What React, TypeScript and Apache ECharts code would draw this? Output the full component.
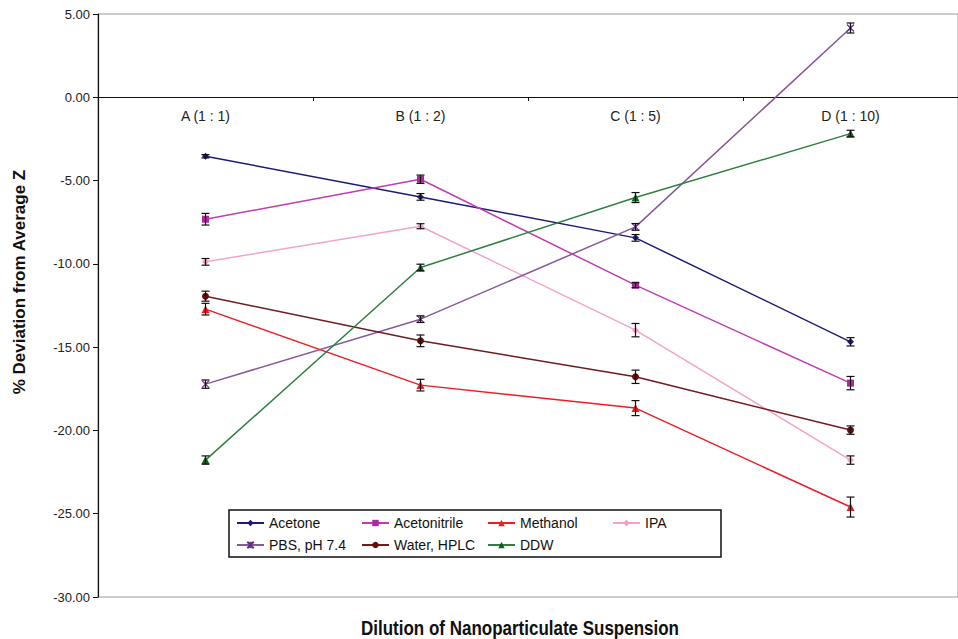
import React, { useEffect, useRef } from "react";
import * as echarts from "echarts";

const categories = ["A (1 : 1)", "B (1 : 2)", "C (1 : 5)", "D (1 : 10)"];
const yTicks = [5, 0, -5, -10, -15, -20, -25, -30];

const seriesNames = ["Acetone", "Acetonitrile", "Methanol", "IPA", "PBS, pH 7.4", "Water, HPLC", "DDW"];
const acetone = [-3.54, -5.98, -8.44, -14.68];
const acetonitrile = [-7.32, -4.92, -11.28, -17.16];
const methanol = [-12.72, -17.28, -18.66, -24.6];
const ipa = [-9.88, -7.74, -13.98, -21.78];
const pbs = [-17.22, -13.32, -7.78, 4.16];
const water = [-11.94, -14.62, -16.78, -19.98];
const ddw = [-21.78, -10.22, -6.02, -2.18];

const acetoneErr = [0.1, 0.2, 0.2, 0.25];
const acetonitrileErr = [0.35, 0.25, 0.15, 0.4];
const methanolErr = [0.35, 0.35, 0.45, 0.6];
const ipaErr = [0.2, 0.15, 0.4, 0.25];
const pbsErr = [0.25, 0.2, 0.2, 0.3];
const waterErr = [0.3, 0.35, 0.4, 0.25];
const ddwErr = [0.25, 0.2, 0.3, 0.2];

const values = [acetone, acetonitrile, methanol, ipa, pbs, water, ddw];
const errs = [acetoneErr, acetonitrileErr, methanolErr, ipaErr, pbsErr, waterErr, ddwErr];
const colors = ["#1c1c78", "#c03cb4", "#ee1c24", "#f3a3cb", "#86589a", "#6e1c1c", "#2f8040"];
const markerColors = ["#1c1c78", "#b0279f", "#ee1c24", "#f39ac6", "#6a2f80", "#6b0a0a", "#106020"];
const symbols = [
  "diamond",
  "rect",
  "triangle",
  "diamond",
  "path://M0 0L10 10M10 0L0 10M5 0L5 10",
  "circle",
  "triangle",
];
const symbolSizes = [7, 7, 8, 7, 7, 7, 8];

const legendPos = [
  [236, 516],
  [361, 516],
  [487, 516],
  [612, 516],
  [236, 538],
  [361, 538],
  [487, 538],
];

const FONT = "'Liberation Sans', Arial, sans-serif";

export default function App() {
  const ref = useRef<HTMLDivElement>(null);
  useEffect(() => {
    if (!ref.current) return;
    const chart = echarts.init(ref.current, undefined, { renderer: "svg" });

    const lineSeries: any[] = seriesNames.map((name, i) => ({
      name,
      type: "line",
      data: values[i],
      symbol: symbols[i],
      symbolSize: symbolSizes[i],
      showSymbol: true,
      lineStyle: { color: colors[i], width: 1.5 },
      itemStyle:
        i === 4
          ? { color: markerColors[i], borderColor: markerColors[i], borderWidth: 1.2 }
          : { color: markerColors[i], borderWidth: 0 },
      z: 2,
    }));

    const errSeries: any[] = seriesNames.map((name, i) => ({
      name: name + " err",
      type: "custom",
      data: values[i].map((v, j) => [j, v - errs[i][j], v + errs[i][j]]),
      encode: { x: 0, y: [1, 2] },
      z: 3,
      silent: true,
      renderItem: (params: any, api: any) => {
        const idx = api.value(0);
        const lo = api.coord([idx, api.value(1)]);
        const hi = api.coord([idx, api.value(2)]);
        const x = lo[0];
        const w = 4;
        const style = { stroke: "#111", lineWidth: 1.2 };
        return {
          type: "group",
          children: [
            { type: "line", shape: { x1: x, y1: lo[1], x2: x, y2: hi[1] }, style },
            { type: "line", shape: { x1: x - w, y1: lo[1], x2: x + w, y2: lo[1] }, style },
            { type: "line", shape: { x1: x - w, y1: hi[1], x2: x + w, y2: hi[1] }, style },
          ],
        };
      },
    }));

    const legends = seriesNames.map((name, i) => ({
      data: [name],
      left: legendPos[i][0],
      top: legendPos[i][1],
      padding: 0,
      itemWidth: 27,
      itemHeight: 8,
      itemGap: 0,
      textStyle: { fontFamily: FONT, fontSize: 14, color: "#111", padding: [0, 0, 0, 0] },
      selectedMode: false,
    }));

    chart.setOption({
      animation: false,
      backgroundColor: "#ffffff",
      grid: {
        left: 98,
        top: 14,
        width: 864,
        height: 583,
        show: true,
        borderColor: "#9a9a9a",
        borderWidth: 1,
        backgroundColor: "transparent",
      },
      legend: legends,
      xAxis: {
        type: "category",
        data: categories,
        boundaryGap: true,
        position: "bottom",
        offset: -500,
        axisLine: { onZero: false, lineStyle: { color: "#111", width: 1.2 } },
        axisTick: { show: true, length: 4, lineStyle: { color: "#111" } },
        axisLabel: { fontFamily: FONT, fontSize: 14, color: "#222", margin: 12 },
        splitLine: { show: false },
      },
      yAxis: {
        type: "value",
        min: -30,
        max: 5,
        interval: 5,
        axisLine: { show: true, onZero: false, lineStyle: { color: "#111", width: 1.2 } },
        axisTick: { show: true, length: 5, lineStyle: { color: "#111" } },
        axisLabel: {
          fontFamily: FONT,
          fontSize: 13,
          color: "#222",
          margin: 8,
          formatter: (v: number) => (yTicks.includes(v) ? v.toFixed(2) : ""),
        },
        splitLine: { show: false },
      },
      graphic: [
        {
          type: "rect",
          shape: { x: 229, y: 510, width: 492, height: 47 },
          style: { fill: "#fff", stroke: "#111", lineWidth: 1.5 },
          z: -1,
        },
        {
          type: "text",
          x: 520,
          y: 628,
          scaleY: 1.15,
          style: {
            text: "Dilution of Nanoparticulate Suspension",
            fontFamily: FONT,
            fontSize: 17,
            fontWeight: "bold",
            fill: "#111",
            align: "center",
            verticalAlign: "middle",
          },
        },
        {
          type: "text",
          x: 19,
          y: 282,
          rotation: Math.PI / 2,
          style: {
            text: "% Deviation from Average Z",
            fontFamily: FONT,
            fontSize: 17,
            fontWeight: "bold",
            fill: "#111",
            align: "center",
            verticalAlign: "middle",
          },
        },
      ],
      series: [...lineSeries, ...errSeries],
    });
    return () => chart.dispose();
  }, []);

  return (
    <div
      ref={ref}
      style={{ position: "fixed", left: 0, top: 0, width: 958, height: 639, background: "#fff" }}
    />
  );
}
